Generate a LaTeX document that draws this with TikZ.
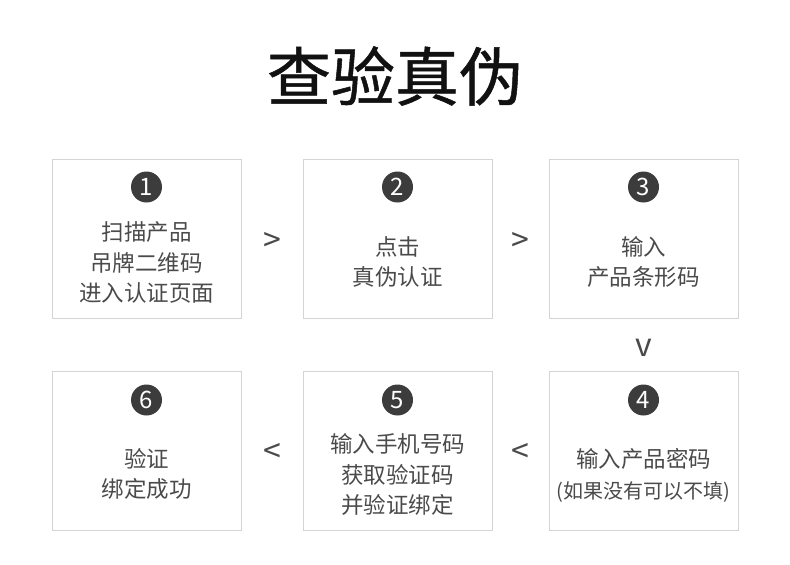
\documentclass[tikz,border=0pt]{standalone}
\usepackage{fontspec}
\setmainfont{Noto Sans CJK SC}
\newfontfamily\titlefont[FakeBold=0.8]{Noto Sans CJK SC}
\usepackage{xcolor}
\usetikzlibrary{
  positioning,
  calc
}
\definecolor{boxline}{HTML}{D4D4D4}
\definecolor{steptext}{HTML}{4A4A4A}
\definecolor{dotfill}{HTML}{3C3C3C}
\definecolor{titletext}{HTML}{111111}

\tikzset{
  stepbox/.style={draw=boxline, line width=1pt, minimum width=189pt, minimum height=159pt, inner sep=0pt},
  numdot/.style={circle, fill=dotfill, text=white, minimum size=31pt, inner sep=0pt,
    font=\fontsize{24}{24}\selectfont},
  steplabel/.style={align=center, text=steptext, inner sep=0pt,
    font=\fontsize{22.5}{30.5}\selectfont},
  flowmark/.style={text=steptext, inner sep=0pt, font=\fontsize{32}{32}\selectfont}
}

\begin{document}
\begin{tikzpicture}[x=1pt, y=-1pt]
  \useasboundingbox (0,0) rectangle (790,565);

  \node[text=titletext, font=\titlefont\fontsize{64}{64}\selectfont] (title) at (395,76) {查验真伪};

  % boxes, top row then bottom row
  \node[stepbox] (b1) at (146.5,238.5) {};
  \node[stepbox] (b2) at (397.5,238.5) {};
  \node[stepbox] (b3) at (643.5,238.5) {};
  \node[stepbox] (b6) at (146.5,450.5) {};
  \node[stepbox] (b5) at (397.5,450.5) {};
  \node[stepbox] (b4) at (643.5,450.5) {};

  \node[numdot] (n1) at (146.5,187) {1};
  \node[numdot] (n2) at (397.5,187) {2};
  \node[numdot] (n3) at (643.5,187) {3};
  \node[numdot] (n6) at (146.5,400) {6};
  \node[numdot] (n5) at (397.5,400) {5};
  \node[numdot] (n4) at (643.5,400) {4};

  \node[steplabel] (t1) at (146.5,262.5) {扫描产品\\吊牌二维码\\进入认证页面};
  \node[steplabel] (t2) at (397.5,262) {点击\\真伪认证};
  \node[steplabel] (t3) at (643.5,262) {输入\\产品条形码};
  \node[steplabel] (t4) at (643.5,475.5) {输入产品密码\\{\fontsize{20}{30.5}\selectfont(如果没有可以不填)}};
  \node[steplabel] (t5) at (397.5,474.5) {输入手机号码\\获取验证码\\并验证绑定};
  \node[steplabel] (t6) at (146.5,474) {验证\\绑定成功};

  % step marks between the boxes
  \node[flowmark] (m12) at ($(b1.east)!0.5!(b2.west)+(0,3)$) {>};
  \node[flowmark] (m23) at ($(b2.east)!0.5!(b3.west)+(0,3)$) {>};
  \node[flowmark] (m34) at ($(b3.south)!0.5!(b4.north)+(0,3)$) {v};
  \node[flowmark] (m45) at ($(b5.east)!0.5!(b4.west)+(0,2.5)$) {<};
  \node[flowmark] (m56) at ($(b6.east)!0.5!(b5.west)+(0,2.5)$) {<};
\end{tikzpicture}
\end{document}
